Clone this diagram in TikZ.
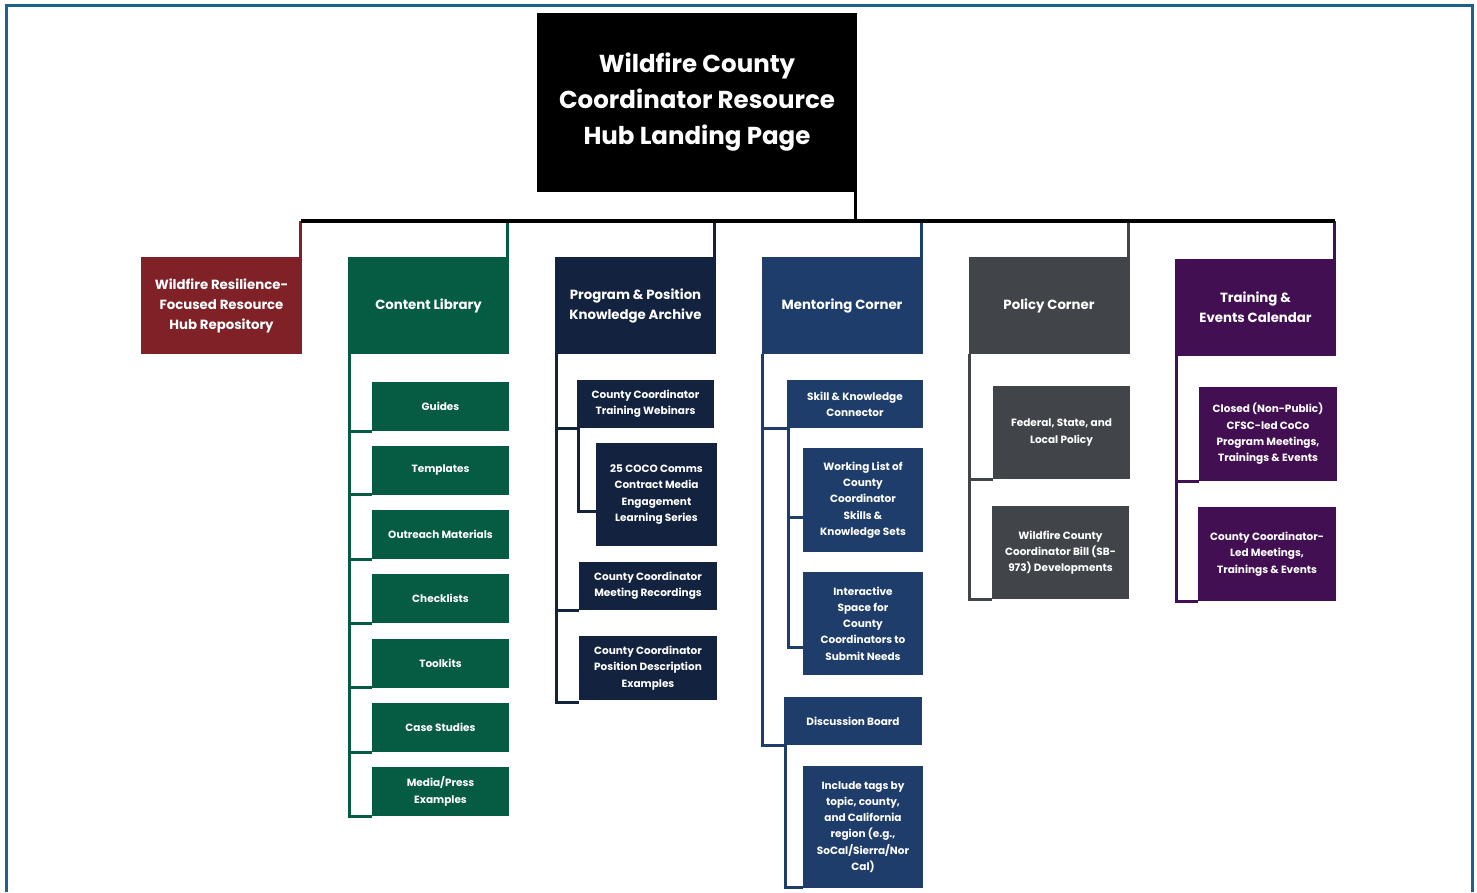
\documentclass[tikz,border=0pt]{standalone}
\usepackage{fontspec}
\setmainfont{Poppins}
\definecolor{cred}{HTML}{7F2127}
\definecolor{cgreen}{HTML}{065C42}
\definecolor{cnavy}{HTML}{13223F}
\definecolor{cblue}{HTML}{1F3D6B}
\definecolor{cgray}{HTML}{414449}
\definecolor{cpurple}{HTML}{430F53}
\definecolor{cframe}{HTML}{1B6389}
\begin{document}
\begin{tikzpicture}[x=1pt, y=-1pt,
    titlebox/.style={fill=black, text=white, font=\fontsize{24.5}{36}\selectfont\bfseries,
                     align=center, minimum width=320pt, minimum height=179pt, inner sep=0pt},
    hdr/.style={text=white, font=\fontsize{13.3}{20}\selectfont\bfseries, align=center,
                minimum width=161pt, minimum height=97pt, inner sep=0pt},
    leaf/.style={text=white, font=\fontsize{10.5}{16.3}\selectfont\bfseries, align=center,
                 inner sep=0pt},
    link/.style={line width=3pt},
    busline/.style={line width=3.2pt, black},
  ]
  \useasboundingbox (0,0) rectangle (1477,892);
  \draw[cframe, line width=3pt] (6,892) -- (6,5) -- (1472,5) -- (1472,892);

  \node[titlebox] (hub) at (697,102.5) {Wildfire County\\Coordinator Resource\\Hub Landing Page};

  % column headers
  \node[hdr, fill=cred]    (repo)    at (221.5,305.5) {Wildfire Resilience-\\Focused Resource\\Hub Repository};
  \node[hdr, fill=cgreen]  (library) at (428.5,305.5) {Content Library};
  \node[hdr, fill=cnavy]   (archive) at (635.5,305.5) {Program \& Position\\Knowledge Archive};
  \node[hdr, fill=cblue]   (mentor)  at (842,305.5)   {Mentoring Corner};
  \node[hdr, fill=cgray]   (policy)  at (1049,305.5)  {Policy Corner};
  \node[hdr, fill=cpurple] (events)  at (1255.5,307.5) {Training \&\\Events Calendar};

  % content library
  \node[leaf, fill=cgreen, minimum width=137pt, minimum height=49pt] (guides)   at (440.5,406.5) {Guides};
  \node[leaf, fill=cgreen, minimum width=137pt, minimum height=49pt] (templ)    at (440.5,470)   {Templates};
  \node[leaf, fill=cgreen, minimum width=137pt, minimum height=49pt] (outreach) at (440.5,534.5) {Outreach Materials};
  \node[leaf, fill=cgreen, minimum width=137pt, minimum height=49pt] (checks)   at (440.5,598.5) {Checklists};
  \node[leaf, fill=cgreen, minimum width=137pt, minimum height=49pt] (toolkits) at (440.5,663)   {Toolkits};
  \node[leaf, fill=cgreen, minimum width=137pt, minimum height=49pt] (cases)    at (440.5,727.5) {Case Studies};
  \node[leaf, fill=cgreen, minimum width=137pt, minimum height=49pt] (media)    at (440.5,791.5) {Media/Press\\Examples};

  % knowledge archive
  \node[leaf, fill=cnavy, minimum width=137pt, minimum height=48pt]  (webinars) at (645.5,404) {County Coordinator\\Training Webinars};
  \node[leaf, fill=cnavy, minimum width=121pt, minimum height=103pt] (coco)     at (656.5,494.5) {25 COCO Comms\\Contract Media\\Engagement\\Learning Series};
  \node[leaf, fill=cnavy, minimum width=138pt, minimum height=48pt]  (recs)     at (648,586) {County Coordinator\\Meeting Recordings};
  \node[leaf, fill=cnavy, minimum width=138pt, minimum height=64pt]  (posdesc)  at (648,668) {County Coordinator\\Position Description\\Examples};

  % mentoring corner
  \node[leaf, fill=cblue, minimum width=136pt, minimum height=48pt]  (skill)    at (855,404) {Skill \& Knowledge\\Connector};
  \node[leaf, fill=cblue, minimum width=120pt, minimum height=104pt] (worklist) at (863,500) {Working List of\\County\\Coordinator\\Skills \&\\Knowledge Sets};
  \node[leaf, fill=cblue, minimum width=120pt, minimum height=103pt] (space)    at (863,623.5) {Interactive\\Space for\\County\\Coordinators to\\Submit Needs};
  \node[leaf, fill=cblue, minimum width=138pt, minimum height=48pt]  (board)    at (853,721) {Discussion Board};
  \node[leaf, fill=cblue, minimum width=120pt, minimum height=122pt] (tags)     at (863,827) {Include tags by\\topic, county,\\and California\\region (e.g.,\\SoCal/Sierra/Nor\\Cal)};

  % policy corner
  \node[leaf, fill=cgray, minimum width=137pt, minimum height=93pt] (fedpol) at (1061.5,432.5) {Federal, State, and\\Local Policy};
  \node[leaf, fill=cgray, minimum width=137pt, minimum height=93pt] (bill)   at (1060.5,552.5) {Wildfire County\\Coordinator Bill (SB-\\973) Developments};

  % events calendar
  \node[leaf, fill=cpurple, minimum width=138pt, minimum height=94pt] (closed) at (1268,434) {Closed (Non-Public)\\CFSC-led CoCo\\Program Meetings,\\Trainings \& Events};
  \node[leaf, fill=cpurple, minimum width=138pt, minimum height=94pt] (ccled)  at (1267,554) {County Coordinator-\\Led Meetings,\\Trainings \& Events};

  % bus from landing page
  \coordinate (busL) at (301,221);
  \coordinate (busR) at (1335,221);
  \draw[busline] ([xshift=-2pt]hub.south east) -- ([xshift=-2pt]hub.south east |- busL);

  \draw[link, cred]    ([xshift=-1.5pt]repo.north east)    -- ([xshift=-1.5pt]repo.north east |- busL);
  \draw[link, cgreen]  ([xshift=-1.5pt]library.north east) -- ([xshift=-1.5pt]library.north east |- busL);
  \draw[link, cnavy]   ([xshift=-1.5pt]archive.north east) -- ([xshift=-1.5pt]archive.north east |- busL);
  \draw[link, cblue]   ([xshift=-1.5pt]mentor.north east)  -- ([xshift=-1.5pt]mentor.north east |- busL);
  \draw[link, cgray]   ([xshift=-1.5pt]policy.north east)  -- ([xshift=-1.5pt]policy.north east |- busL);
  \draw[link, cpurple] ([xshift=-1.5pt]events.north east)  -- ([xshift=-1.5pt]events.north east |- busL);
  \draw[busline] (busL) -- (busR);

  \foreach \leafname in {guides, templ, outreach, checks, toolkits, cases, media}
    \draw[link, cgreen] ([xshift=1.5pt]library.south west) |- (\leafname.south west);

  \draw[link, cnavy] ([xshift=1.5pt]archive.south west) |- (webinars.south west);
  \draw[link, cnavy] ([xshift=1.5pt]archive.south west) |- (recs.south west);
  \draw[link, cnavy] ([xshift=1.5pt]archive.south west) |- ([yshift=-2pt]posdesc.south west);
  \draw[link, cnavy] ([xshift=1.5pt]webinars.south west) |- ([yshift=-17pt]coco.west);

  \draw[link, cblue] ([xshift=1.5pt]mentor.south west) |- (skill.south west);
  \draw[link, cblue] ([xshift=1.5pt]mentor.south west) |- (board.south west);
  \draw[link, cblue] ([xshift=1.5pt]skill.south west) |- ([yshift=-17pt]worklist.west);
  \draw[link, cblue] ([xshift=1.5pt]skill.south west) |- ([yshift=-23.5pt]space.west);
  \draw[link, cblue] ([xshift=1.5pt]board.south west) |- ([yshift=1pt]tags.south west);

  \draw[link, cgray] ([xshift=1.5pt]policy.south west) |- (fedpol.south west);
  \draw[link, cgray] ([xshift=1.5pt]policy.south west) |- (bill.south west);

  \draw[link, cpurple] ([xshift=1.5pt]events.south west) |- (closed.south west);
  \draw[link, cpurple] ([xshift=1.5pt]events.south west) |- (ccled.south west);
\end{tikzpicture}
\end{document}
